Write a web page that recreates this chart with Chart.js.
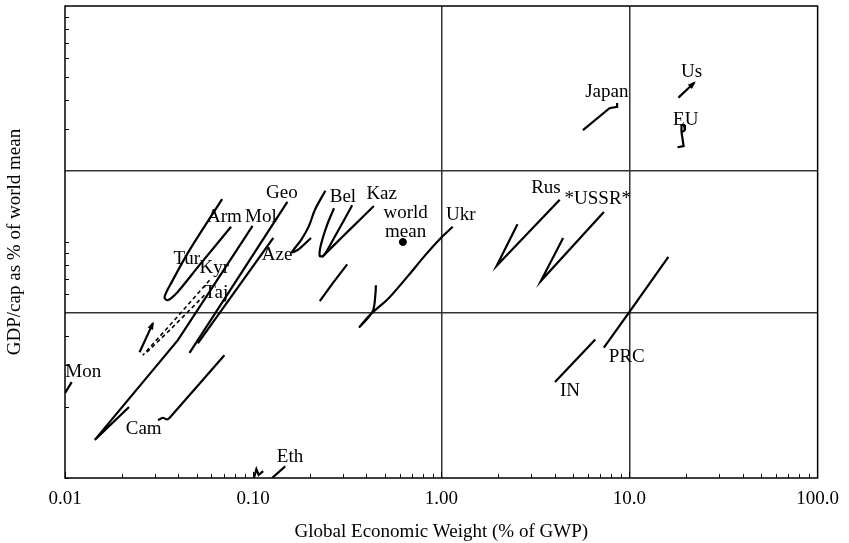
<!DOCTYPE html>
<html>
<head>
<meta charset="utf-8">
<script src="https://cdn.jsdelivr.net/npm/chart.js@4.4.1/dist/chart.umd.min.js"></script>
<style>
  html, body { margin: 0; padding: 0; background: #fff; }
</style>
</head>
<body>
<canvas id="chart" width="849" height="543"></canvas>
<script>
// axis tick labels (x only, y has unlabeled ticks)
const xTicks = [0.01, 0.1, 1, 10, 100];
const xTickLabels = ['0.01', '0.10', '1.00', '10.0', '100.0'];
const xGridValues = [1, 10];
const yGridValues = [50, 200];

// trajectories: [GWP share %, GDP/cap % of world mean]
const us = [[18.2, 409], [22.1, 473]];
const japan = [[5.66, 298], [7.83, 369], [8.6, 374], [8.6, 388]];
const eu = [[18.0, 252], [19.4, 255], [18.9, 293], [18.9, 313], [19.5, 313], [19.7, 298], [19.1, 293]];
const rus = [[4.26, 151], [1.97, 79.3], [2.54, 119]];
const ussr = [[7.31, 134], [3.38, 68.3], [4.44, 104]];
const prc = [[16.1, 86.5], [10.0, 50.6], [7.31, 35.7]];
const india = [[6.58, 38.6], [4.02, 25.5]];
const ukr = [[1.15, 116], [1.006, 105], [0.822, 88], [0.671, 72.4], [0.525, 57.8], [0.422, 49.5], [0.368, 43.7], [0.432, 50.9], [0.447, 60.7], [0.449, 65.6]];
const kaz = [[0.438, 142], [0.323, 112], [0.269, 97], [0.232, 86.3]];
const bel = [[0.269, 139], [0.247, 118], [0.229, 97], [0.226, 87.1], [0.238, 88], [0.269, 104], [0.336, 143]];
const aze = [[0.242, 165], [0.213, 137], [0.198, 117], [0.18, 102], [0.161, 90.6], [0.175, 93.3], [0.203, 104]];
const balt = [[0.316, 80.4], [0.265, 66.9], [0.226, 56.2]];
const geo = [[0.152, 148], [0.0459, 33.9]];
const azeLine = [[0.128, 104], [0.0508, 37.2]];
const mol = [[0.0993, 117], [0.0398, 38.4], [0.0144, 14.5], [0.0219, 20.0]];
const tur = [[0.0684, 152], [0.0459, 92.4], [0.0369, 67.6], [0.0338, 58.4], [0.0351, 56.7], [0.0396, 61.3], [0.0518, 79.8], [0.0763, 116]];
const kyr = [[0.0586, 68.9], [0.0382, 46.7], [0.0259, 33.1]];
const taj = [[0.0551, 59.5], [0.036, 42.3], [0.0272, 34.1]];
const tajArrow = [[0.0249, 34.1], [0.0293, 45.2]];
const mon = [[0.01, 22.9], [0.01085, 25.5]];
const cam = [[0.0312, 17.6], [0.0331, 18.0], [0.0348, 17.7], [0.036, 18.0], [0.0703, 33.1]];
const eth = [[0.101, 10], [0.104, 10.9], [0.107, 10.3], [0.113, 10.7], [null, null], [0.126, 10], [0.148, 11.2]];
const worldMean = [[0.625, 100]];

// text labels: [text, x, y]
const labels = [
  ['Us', 21.4, 525], ['Japan', 7.58, 432], ['EU', 19.9, 329],
  ['Rus', 3.6, 169], ['*USSR*', 6.79, 152], ['PRC', 9.68, 32.5], ['IN', 4.83, 23.3],
  ['Ukr', 1.27, 130], ['world', 0.646, 133], ['mean', 0.646, 110],
  ['Bel', 0.30, 155], ['Kaz', 0.482, 160], ['Geo', 0.142, 162],
  ['Arm', 0.0703, 128], ['Mol', 0.110, 128], ['Tur', 0.0444, 84.4],
  ['Kyr', 0.0622, 77.3], ['Taj', 0.0636, 60.9], ['Aze', 0.134, 88],
  ['Mon', 0.0125, 28.2], ['Cam', 0.0262, 16.2], ['Eth', 0.157, 12.3]
];

const FONT = '"Liberation Serif", "Times New Roman", serif';

function line(name, pts, extra) {
  return Object.assign({
    label: name,
    data: pts.map(p => ({ x: p[0], y: p[1] })),
    showLine: true,
    borderColor: '#000',
    borderWidth: 2.2,
    pointRadius: 0,
    tension: 0,
    spanGaps: false
  }, extra || {});
}

const datasets = [
  line('Us', us, { arrow: true }),
  line('Japan', japan),
  line('EU', eu),
  line('Rus', rus),
  line('USSR', ussr),
  line('PRC', prc),
  line('IN', india),
  line('Ukr', ukr, { tension: 0.3 }),
  line('Kaz', kaz, { tension: 0.2 }),
  line('Bel', bel, { tension: 0.3 }),
  line('Aze', aze, { tension: 0.3 }),
  line('Balt', balt),
  line('Geo', geo),
  line('Aze2', azeLine),
  line('Mol', mol),
  line('Tur', tur, { tension: 0.3 }),
  line('Kyr', kyr, { borderDash: [4, 3], borderWidth: 1.6 }),
  line('Taj', taj, { borderDash: [4, 3], borderWidth: 1.6 }),
  line('Taj2', tajArrow, { arrow: true }),
  line('Mon', mon),
  line('Cam', cam, { tension: 0.2 }),
  line('Eth', eth),
  {
    label: 'world mean',
    data: worldMean.map(p => ({ x: p[0], y: p[1] })),
    pointRadius: 3.5,
    backgroundColor: '#000',
    borderColor: '#000'
  }
];

// box, inward ticks, labels and arrowheads
const decor = {
  id: 'decor',
  afterDatasetsDraw(chart) {
    const { ctx, chartArea: a, scales: { x, y } } = chart;
    ctx.save();
    ctx.strokeStyle = '#000';
    ctx.lineWidth = 1;
    ctx.beginPath();
    for (let d = 0.01; d < 99; d *= 10) {
      for (let k = 1; k < 10; k++) {
        const px = Math.round(x.getPixelForValue(d * k)) + 0.5;
        const len = k === 1 ? 6 : 4;
        ctx.moveTo(px, a.bottom);
        ctx.lineTo(px, a.bottom - len);
      }
    }
    for (let d = 10; d < 999; d *= 10) {
      for (let k = 1; k < 10; k++) {
        const v = d * k;
        if (yGridValues.includes(v)) continue;
        const py = Math.round(y.getPixelForValue(v)) + 0.5;
        ctx.moveTo(a.left, py);
        ctx.lineTo(a.left + 4, py);
      }
    }
    ctx.stroke();

    ctx.lineWidth = 1.5;
    ctx.strokeRect(a.left, a.top, a.right - a.left, a.bottom - a.top);

    // arrowheads
    chart.data.datasets.forEach((ds, i) => {
      if (!ds.arrow) return;
      const pts = chart.getDatasetMeta(i).data;
      const p1 = pts[pts.length - 2], p2 = pts[pts.length - 1];
      const ang = Math.atan2(p2.y - p1.y, p2.x - p1.x);
      ctx.fillStyle = '#000';
      ctx.beginPath();
      ctx.moveTo(p2.x + 2 * Math.cos(ang), p2.y + 2 * Math.sin(ang));
      ctx.lineTo(p2.x - 6 * Math.cos(ang) + 3 * Math.sin(ang), p2.y - 6 * Math.sin(ang) - 3 * Math.cos(ang));
      ctx.lineTo(p2.x - 6 * Math.cos(ang) - 3 * Math.sin(ang), p2.y - 6 * Math.sin(ang) + 3 * Math.cos(ang));
      ctx.closePath();
      ctx.fill();
    });

    ctx.fillStyle = '#000';
    ctx.font = '19px ' + FONT;
    ctx.textAlign = 'center';
    ctx.textBaseline = 'middle';
    labels.forEach(([t, lx, ly]) => {
      ctx.fillText(t, x.getPixelForValue(lx), y.getPixelForValue(ly));
    });
    ctx.restore();
  }
};

const ctx = document.getElementById('chart').getContext('2d');
const chart = new Chart(ctx, {
  type: 'scatter',
  data: { datasets },
  options: {
    responsive: false,
    animation: false,
    devicePixelRatio: 1,
    layout: { padding: { top: 6, right: 29, left: 0, bottom: 0 } },
    plugins: { legend: { display: false }, tooltip: { enabled: false } },
    scales: {
      x: {
        type: 'logarithmic',
        min: 0.01,
        max: 100,
        afterBuildTicks: (s) => { s.ticks = xTicks.map(v => ({ value: v, major: true })); },
        afterFit: (s) => { s.height = 65; },
        ticks: {
          padding: 10,
          color: '#000',
          font: { family: FONT, size: 19 },
          maxRotation: 0,
          autoSkip: false,
          callback: (v) => xTickLabels[xTicks.indexOf(v)] ?? ''
        },
        grid: {
          drawTicks: false,
          lineWidth: 1.5,
          color: (c) => c.tick && xGridValues.includes(c.tick.value) ? '#333' : 'rgba(0,0,0,0)'
        },
        border: { display: false },
        title: {
          display: true,
          text: 'Global Economic Weight (% of GWP)',
          color: '#000',
          font: { family: FONT, size: 19 },
          padding: { top: 0, bottom: 0 }
        }
      },
      y: {
        type: 'logarithmic',
        min: 10,
        max: 1000,
        afterFit: (s) => { s.width = 65; },
        ticks: { display: false },
        grid: {
          drawTicks: false,
          lineWidth: 1.5,
          color: (c) => c.tick && yGridValues.includes(c.tick.value) ? '#333' : 'rgba(0,0,0,0)'
        },
        border: { display: false },
        title: {
          display: true,
          text: 'GDP/cap as % of world mean',
          color: '#000',
          font: { family: FONT, size: 19 },
          padding: { top: 4, bottom: 0 }
        }
      }
    }
  },
  plugins: [decor]
});
</script>
</body>
</html>
